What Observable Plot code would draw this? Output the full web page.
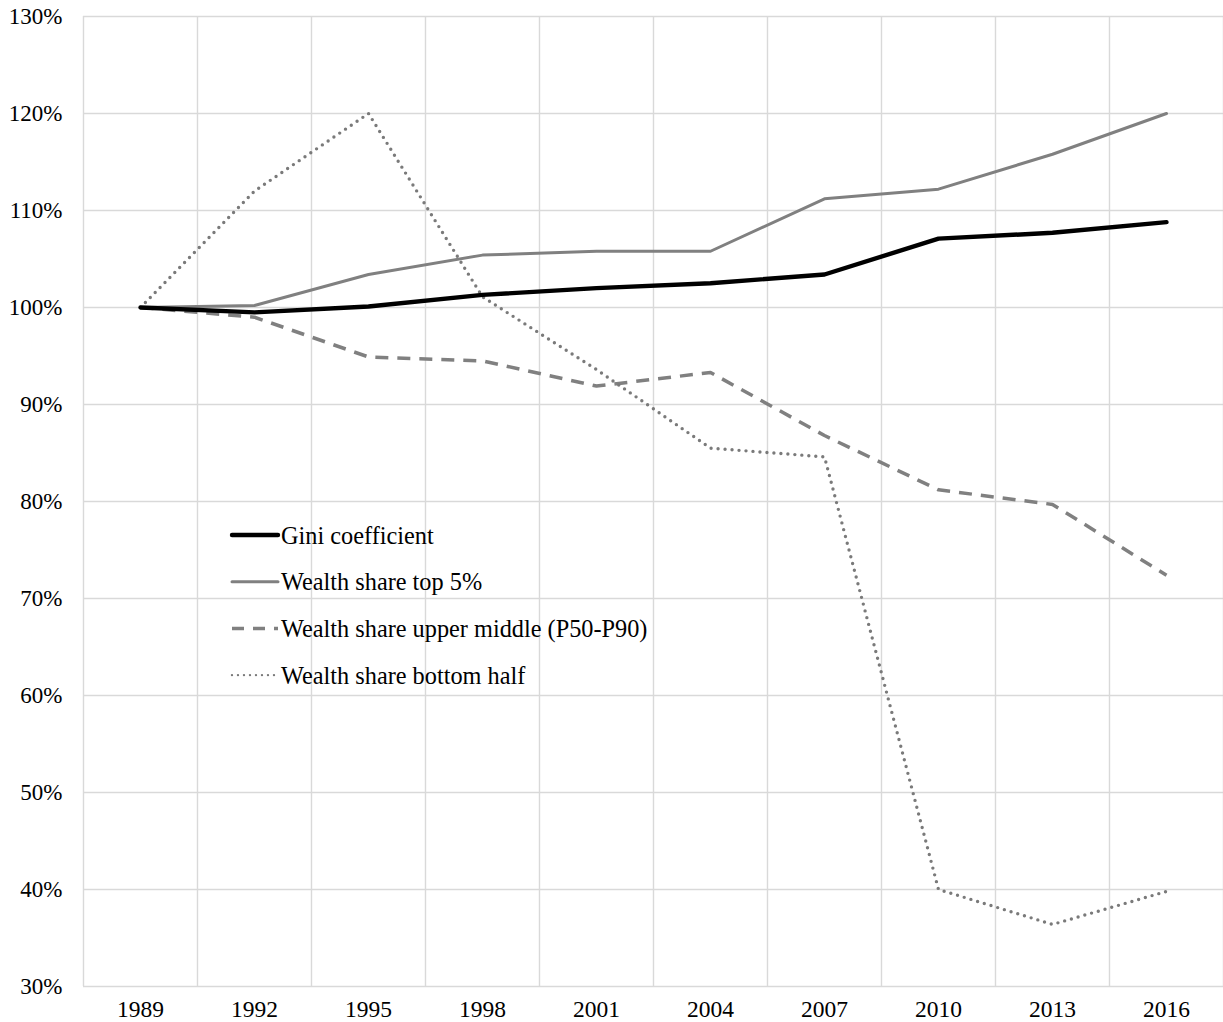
<!DOCTYPE html>
<html>
<head>
<meta charset="utf-8">
<script src="https://cdn.jsdelivr.net/npm/d3@7"></script>
<script src="https://cdn.jsdelivr.net/npm/@observablehq/plot@0.6"></script>
<style>
  html, body { margin: 0; padding: 0; background: #fff; overflow: hidden; }
  #chart svg { display: block; }
</style>
</head>
<body>
<div id="chart"></div>
<script>
// ---- Data ----
const years = [1989, 1992, 1995, 1998, 2001, 2004, 2007, 2010, 2013, 2016];
const gini        = [100, 99.5, 100.1, 101.3, 102.0, 102.5, 103.4, 107.1, 107.7, 108.8];
const top5        = [100, 100.2, 103.4, 105.4, 105.8, 105.8, 111.2, 112.2, 115.8, 120.0];
const upperMiddle = [100, 99.0, 94.9, 94.5, 91.9, 93.3, 86.8, 81.2, 79.7, 72.4];
const bottomHalf  = [100, 112.0, 120.0, 101.1, 93.6, 85.5, 84.6, 40.0, 36.4, 39.8];
const yTicks = [30, 40, 50, 60, 70, 80, 90, 100, 110, 120, 130];
const seriesNames = [
  "Gini coefficient",
  "Wealth share top 5%",
  "Wealth share upper middle (P50-P90)",
  "Wealth share bottom half"
];

const half = 1.5; // half of the 3-year category step
const boundaries = years.map(y => y - half).concat([years[years.length - 1] + half]);

const toRows = vals => years.map((y, i) => ({year: y, value: vals[i]}));

const styles = [
  {stroke: "#000000", strokeWidth: 4.4, dash: null, cap: "round"},
  {stroke: "#808080", strokeWidth: 3, dash: null, cap: "round"},
  {stroke: "#808080", strokeWidth: 3.5, dash: "13,9", cap: "butt"},
  {stroke: "#7a7a7a", strokeWidth: 3.4, dash: "0,7", cap: "round"}
];
const seriesVals = [gini, top5, upperMiddle, bottomHalf];

const font = "'Liberation Serif', 'Times New Roman', Times, serif";

const lineMark = (i) => Plot.line(toRows(seriesVals[i]), {
  x: "year", y: "value",
  stroke: styles[i].stroke,
  strokeWidth: styles[i].strokeWidth,
  strokeDasharray: styles[i].dash,
  strokeLinecap: styles[i].cap,
  strokeLinejoin: "round"
});

const chart = Plot.plot({
  width: 1223,
  height: 1022,
  marginLeft: 83,
  marginRight: 0,
  marginTop: 16,
  marginBottom: 36,
  style: {fontFamily: font, fontSize: "23px", color: "#000", background: "#fff"},
  x: {type: "linear", domain: [boundaries[0], boundaries[boundaries.length - 1]], label: null},
  y: {domain: [30, 130], label: null},
  marks: [
    Plot.gridY(yTicks, {stroke: "#d9d9d9", strokeOpacity: 1, strokeWidth: 1.4}),
    Plot.ruleX(boundaries, {stroke: "#d9d9d9", strokeWidth: 1.4}),
    Plot.axisY(yTicks, {tickSize: 0, tickPadding: 21, tickFormat: d => d + "%", fontSize: 23, fill: "#000"}),
    Plot.axisX(years, {tickSize: 0, tickPadding: 14, tickFormat: d => String(d), fontSize: 23.5, fill: "#000"}),
    lineMark(1),
    lineMark(2),
    lineMark(3),
    lineMark(0)
  ]
});

document.getElementById("chart").appendChild(chart);

// ---- Legend inside the plot area ----
const svg = d3.select(chart);
const lg = svg.append("g").attr("class", "legend").attr("text-anchor", "start");
const rowY0 = 535, rowGap = 46.7;
seriesNames.forEach((name, i) => {
  const y = rowY0 + i * rowGap;
  const s = styles[i];
  lg.append("line")
    .attr("x1", 232).attr("x2", 278).attr("y1", y).attr("y2", y)
    .attr("stroke", s.stroke)
    .attr("stroke-width", i === 3 ? 2.4 : s.strokeWidth)
    .attr("stroke-linecap", s.cap)
    .attr("stroke-dasharray", i === 2 ? "12,9" : (i === 3 ? "0,6" : null));
  lg.append("text")
    .attr("x", 281).attr("y", y)
    .attr("dy", "0.35em")
    .attr("text-anchor", "start")
    .attr("font-family", font)
    .attr("font-size", 24.3)
    .attr("fill", "#000")
    .text(name);
});
</script>
</body>
</html>
